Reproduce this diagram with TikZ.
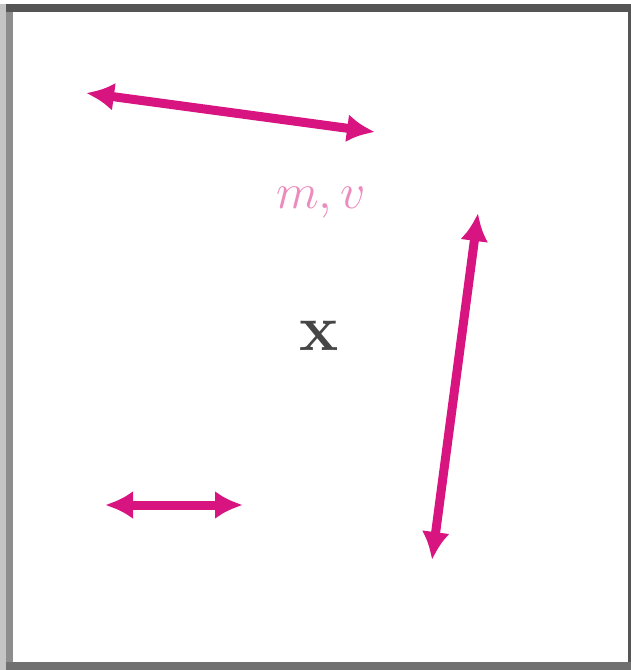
\documentclass[tikz,border=0pt]{standalone}
\usetikzlibrary{arrows.meta}
\definecolor{pk}{RGB}{216,20,128}
\definecolor{pklight}{RGB}{236,140,190}
\definecolor{fr1}{RGB}{85,85,85}
\definecolor{fr2}{RGB}{112,112,112}
\definecolor{frl}{RGB}{196,196,196}
\definecolor{frm}{RGB}{141,141,141}
\definecolor{xg}{RGB}{70,70,70}
\tikzset{
  vec/.style={draw=pk, line width=4.5pt, {Latex[length=14pt,width=14pt]}-{Latex[length=14pt,width=14pt]}},
  lbl/.style={text=pklight, font=\fontsize{26}{28}\selectfont, inner sep=0pt}
}
\begin{document}
\begin{tikzpicture}[x=0.5pt,y=-0.5pt]
\useasboundingbox (0,0) rectangle (631,670);
\fill[white] (0,0) rectangle (631,670);
% frame
\fill[fr1] (6,4) rectangle (631,12);
\fill[fr2] (6,662) rectangle (631,670);
\fill[frl] (0,4) rectangle (6,670);
\fill[frm] (6,12) rectangle (13,662);
\fill[fr1] (628,12) rectangle (631,662);
% arrow end points
\coordinate (a1) at (86,93);
\coordinate (a2) at (375,132);
\coordinate (b1) at (105,505);
\coordinate (b2) at (243,505);
\coordinate (c1) at (432,560);
\coordinate (c2) at (478,213);
\draw[vec] (a1) -- (a2);
\draw[vec] (b1) -- (b2);
\draw[vec] (c1) -- (c2);
\node[lbl] (label) at (321,203) {$m,v$};
\node[text=xg, font=\fontsize{33}{35}\selectfont\bfseries, inner sep=0pt] (cross) at (319,336) {x};
\end{tikzpicture}
\end{document}
